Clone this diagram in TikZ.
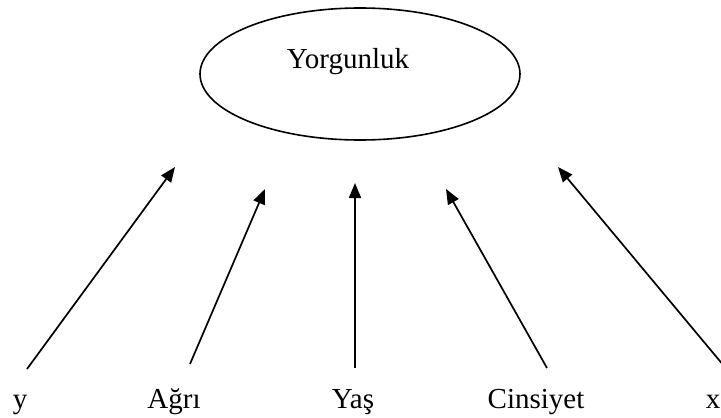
\documentclass[tikz,border=0pt]{standalone}
\usepackage{fontspec}
\setmainfont{Liberation Serif}
\usetikzlibrary{arrows.meta,shapes.geometric}
\begin{document}
\begin{tikzpicture}[x=1pt,y=-1pt,
  lab/.style={anchor=base,inner sep=0pt,font=\fontsize{29}{34}\selectfont},
  arr/.style={line width=1.7pt,-{Triangle[length=15pt,width=12pt]}},
  ell/.style={draw,ellipse,line width=1.6pt,minimum width=320pt,minimum height=132pt,inner sep=0pt}]
\useasboundingbox (0,0) rectangle (721,418);
\node[ell] (E) at (360,74) {};
\node[lab] (title) at (348,68) {Yorgunluk};
\node[lab] (ly) at (20,408) {y};
\node[lab] (la) at (174,408) {Ağrı};
\node[lab] (lyas) at (353,408) {Yaş};
\node[lab] (lc) at (536,408) {Cinsiyet};
\node[lab,anchor=base east] (lx) at (720.5,408) {x};
\coordinate (s1) at (27,369);
\coordinate (t1) at (175,167);
\coordinate (s2) at (190,364);
\coordinate (t2) at (265,189);
\coordinate (s3) at (355,368);
\coordinate (t3) at (355,183);
\coordinate (s4) at (547,368);
\coordinate (t4) at (446,189);
\coordinate (s5) at (724,366);
\coordinate (t5) at (558,167);
\draw[arr] (s1) -- (t1);
\draw[arr] (s2) -- (t2);
\draw[arr] (s3) -- (t3);
\draw[arr] (s4) -- (t4);
\draw[arr] (s5) -- (t5);
\end{tikzpicture}
\end{document}
